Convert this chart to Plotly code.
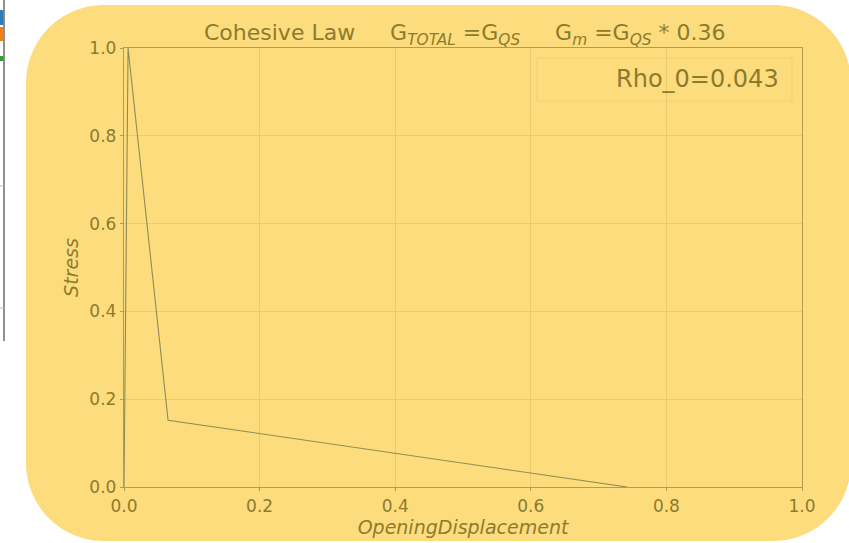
import plotly.graph_objects as go

# Cohesive (traction-separation) law: piecewise linear softening curve
opening_displacement = [0.0, 0.006, 0.065, 0.742]
stress = [0.0, 1.0, 0.152, 0.0]
tick_values = [0.0, 0.2, 0.4, 0.6, 0.8, 1.0]
tick_labels = ["0.0", "0.2", "0.4", "0.6", "0.8", "1.0"]
rho_0 = 0.043
gm_factor = 0.36

W, H = 849, 543
L, R, T, B = 124, 47, 48, 56
PW, PH = W - L - R, H - T - B

BG = "#FDDC7E"
TXT = "#8D7B2C"
GRID = "#EACB6E"
SPINE = "#B49C4C"
LINE = "#8E8C55"


def px(x):
    return (x - L) / PW


def py(y):
    return (H - B - y) / PH


def rounded_rect(x0, y0, x1, y1, r):
    k = 0.5523 * r
    pts = [
        f"M {px(x0 + r)} {py(y0)}",
        f"L {px(x1 - r)} {py(y0)}",
        f"C {px(x1 - r + k)} {py(y0)} {px(x1)} {py(y0 + r - k)} {px(x1)} {py(y0 + r)}",
        f"L {px(x1)} {py(y1 - r)}",
        f"C {px(x1)} {py(y1 - r + k)} {px(x1 - r + k)} {py(y1)} {px(x1 - r)} {py(y1)}",
        f"L {px(x0 + r)} {py(y1)}",
        f"C {px(x0 + r - k)} {py(y1)} {px(x0)} {py(y1 - r + k)} {px(x0)} {py(y1 - r)}",
        f"L {px(x0)} {py(y0 + r)}",
        f"C {px(x0)} {py(y0 + r - k)} {px(x0 + r - k)} {py(y0)} {px(x0 + r)} {py(y0)}",
        "Z",
    ]
    return " ".join(pts)


fig = go.Figure()
fig.add_trace(go.Scatter(
    x=opening_displacement, y=stress, mode="lines",
    line=dict(color=LINE, width=1.1), showlegend=False, hoverinfo="skip",
))

shapes = [
    # rounded card behind the chart
    dict(type="path", xref="paper", yref="paper", layer="below",
         path=rounded_rect(26, 5, 851, 541, 78),
         fillcolor=BG, line=dict(width=0)),
    # legend frame
    dict(type="rect", xref="paper", yref="paper", layer="above",
         x0=px(537), x1=px(792), y0=py(58), y1=py(101),
         line=dict(color="#F0CF72", width=1), fillcolor="rgba(0,0,0,0)"),
    # edge of the neighbouring panel
    dict(type="line", xref="paper", yref="paper", x0=px(4), x1=px(4), y0=py(0), y1=py(341),
         line=dict(color="#555555", width=1.3)),
    dict(type="line", xref="paper", yref="paper", x0=px(0), x1=px(4), y0=py(186), y1=py(186),
         line=dict(color="#BBBBBB", width=1)),
    dict(type="line", xref="paper", yref="paper", x0=px(0), x1=px(4), y0=py(308), y1=py(308),
         line=dict(color="#BBBBBB", width=1)),
    dict(type="rect", xref="paper", yref="paper", x0=px(0), x1=px(3.5), y0=py(10), y1=py(25),
         fillcolor="#2E7FB8", line=dict(width=0)),
    dict(type="rect", xref="paper", yref="paper", x0=px(0), x1=px(3.5), y0=py(27), y1=py(41),
         fillcolor="#F07F1E", line=dict(width=0)),
    dict(type="rect", xref="paper", yref="paper", x0=px(0), x1=px(3.5), y0=py(56), y1=py(61),
         fillcolor="#3A9A3A", line=dict(width=0)),
]

sp = "\u00a0"
title_text = (
    f"Cohesive Law{sp*5}G<sub><i>TOTAL</i></sub>{sp}=G<sub><i>QS</i></sub>"
    f"{sp*5}G<sub><i>m</i></sub>{sp}=G<sub><i>QS</i></sub>{sp}*{sp}{gm_factor}"
)

annotations = [
    dict(text=title_text, xref="paper", yref="paper", x=px(465), y=py(34),
         xanchor="center", yanchor="middle", showarrow=False,
         font=dict(size=22, color=TXT)),
    dict(text=f"Rho_0={rho_0}", xref="paper", yref="paper", x=px(781), y=py(79),
         xanchor="right", yanchor="middle", showarrow=False,
         font=dict(size=24, color=TXT)),
]

axis_common = dict(
    range=[0, 1], tickmode="array", tickvals=tick_values, ticktext=tick_labels,
    showgrid=True, gridcolor=GRID, gridwidth=1, zeroline=False,
    showline=True, linecolor=SPINE, linewidth=1.4, mirror=True,
    ticks="outside", ticklen=3, tickcolor=SPINE,
    tickfont=dict(family="DejaVu Sans", size=17, color=TXT),
)

fig.update_layout(
    width=W, height=H,
    margin=dict(l=L, r=R, t=T, b=B),
    paper_bgcolor="white", plot_bgcolor=BG,
    font=dict(family="DejaVu Sans", color=TXT),
    shapes=shapes, annotations=annotations, showlegend=False,
    xaxis=dict(axis_common, title=dict(text="<i>OpeningDisplacement</i>",
                                       font=dict(size=19, color=TXT), standoff=1)),
    yaxis=dict(axis_common, title=dict(text="<i>Stress</i>",
                                       font=dict(size=19, color=TXT), standoff=5)),
)

fig.write_html("out.html")
